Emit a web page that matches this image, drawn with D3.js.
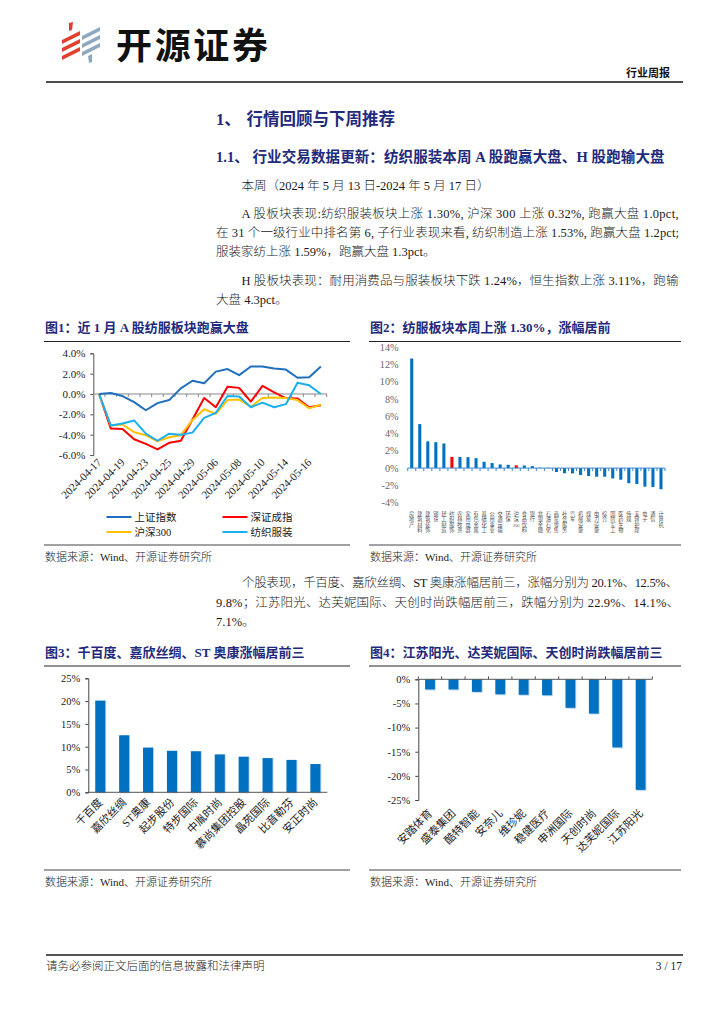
<!DOCTYPE html>
<html>
<head>
<meta charset="utf-8">
<script src="https://d3js.org/d3.v7.min.js"></script>
<style>
  body { margin: 0; background: #fff; }
  svg { display: block; }
</style>
</head>
<body>
<svg id="page" width="724" height="1024"></svg>
<script>
// ---- data ----
const dates = ["2024-04-17","2024-04-18","2024-04-19","2024-04-22","2024-04-23","2024-04-24","2024-04-25","2024-04-26","2024-04-29","2024-04-30",
  "2024-05-06","2024-05-07","2024-05-08","2024-05-09","2024-05-10","2024-05-13","2024-05-14","2024-05-15","2024-05-16","2024-05-17"];
const dateTicks = ["2024-04-17","2024-04-19","2024-04-23","2024-04-25","2024-04-29","2024-05-06","2024-05-08","2024-05-10","2024-05-14","2024-05-16"];
const shIndex = [0,0.1,-0.2,-0.8,-1.6,-0.9,-0.6,0.55,1.3,1.05,2.2,2.45,1.85,2.7,2.7,2.5,2.4,1.6,1.65,2.7];
const szIndex = [0,-3.4,-3.45,-4.45,-4.9,-5.45,-4.8,-4.6,-2.5,-0.4,-1.3,0.7,0.6,-0.75,0.8,0.15,-0.4,-0.45,-1.3,-1.1];
const hs300 = [0,-3.1,-3.0,-3.75,-4.05,-4.65,-4.25,-4.05,-2.55,-1.5,-1.95,-0.6,-0.55,-1.25,-0.4,-0.35,-0.4,-0.6,-1.4,-1.05];
const textile = [0,-3.1,-2.9,-2.6,-3.9,-4.6,-3.9,-4.0,-3.8,-2.35,-1.85,-0.2,-0.25,-1.3,-0.85,-1.3,-1.0,1.1,0.85,0.0];
const seriesNames = ["上证指数","深证成指","沪深300","纺织服装"];
const seriesColors = ["#1f6fbf","#ff0000","#ffc000","#19b0ef"];

const industries = ["房地产","建筑材料","建筑装饰","钢铁","轻工制造","纺织服饰","农林牧渔","家用电器","有色金属","基础化工","公用事业","交通运输","环保","沪深300","食品饮料","银行",
  "非银金融","石油石化","商贸零售","社会服务","汽车","机械设备","煤炭","电力设备","综合","国防军工","医药生物","传媒","美容护理","电子","通信","计算机"];
const industryChg = [12.7,5.1,3.1,3.0,2.85,1.30,1.29,1.27,1.15,0.73,0.58,0.42,0.38,0.32,0.3,0.23,0.05,0.03,-0.45,-0.6,-0.62,-0.8,-0.92,-1.0,-1.0,-1.2,-1.35,-1.75,-1.85,-2.15,-2.2,-2.45];
const highlight = ["纺织服饰","沪深300"];
const industryTicks = [-4,-2,0,2,4,6,8,10,12,14];

const gainers = ["千百度","嘉欣丝绸","ST奥康","起步股份","特步国际","中胤时尚","慕尚集团控股","晶苑国际","比音勒芬","安正时尚"];
const gainerChg = [20.1,12.5,9.8,9.1,9.0,8.3,7.8,7.5,7.1,6.2];
const losers = ["安踏体育","盛泰集团","酷特智能","安奈儿","维珍妮","稳健医疗","申洲国际","天创时尚","达芙妮国际","江苏阳光"];
const loserChg = [-2.1,-2.1,-2.6,-3.1,-3.2,-3.3,-5.9,-7.1,-14.1,-22.9];

// ---- page ----
const SERIF = "'Liberation Serif','Noto Sans CJK SC',serif";
const NAVY = "#1f2a7c";
const svg = d3.select("#page");
svg.append("rect").attr("width", 724).attr("height", 1024).attr("fill", "#fff");

// logo
const logo = svg.append("g");
[[62,40],[62,48],[62,56]].forEach(([x, y]) => {
  logo.append("path").attr("fill", "#e2402f")
    .attr("d", `M${x},${y} L${x+18},${y-9} L${x+18},${y-5} L${x},${y+4}Z`);
});
logo.append("path").attr("fill", "#e2402f").attr("d", "M69,23 L73,22 L72,30 L69,31Z");
[[82,36],[82,44],[82,52]].forEach(([x, y]) => {
  logo.append("path").attr("fill", "#8ea9bf")
    .attr("d", `M${x},${y} L${x+18},${y-9} L${x+18},${y-5} L${x},${y+4}Z`);
});
logo.append("path").attr("fill", "#8ea9bf").attr("d", "M88,56 L92,54 L92,62 L89,63Z");
svg.append("text").attr("x", 116).attr("y", 59)
  .attr("font-family", "'Noto Sans CJK SC',sans-serif").attr("font-weight", 700)
  .attr("font-size", 36).attr("fill", "#111").attr("textLength", 152).attr("lengthAdjust", "spacing")
  .text("开源证券");
svg.append("text").attr("x", 670).attr("y", 77).attr("text-anchor", "end")
  .attr("font-family", SERIF).attr("font-weight", 700).attr("font-size", 11).attr("fill", "#111")
  .text("行业周报");
svg.append("line").attr("x1", 46).attr("x2", 683).attr("y1", 82).attr("y2", 82)
  .attr("stroke", "#111").attr("stroke-width", 1.5);

// headings
function heading(num, x2, txt, y, size, len) {
  svg.append("text").attr("x", 216).attr("y", y).attr("font-family", SERIF).attr("font-weight", 700)
    .attr("font-size", size).attr("fill", NAVY).text(num);
  const t = svg.append("text").attr("x", x2).attr("y", y).attr("font-family", SERIF).attr("font-weight", 700)
    .attr("font-size", size).attr("fill", NAVY).text(txt);
  if (len) t.attr("textLength", len).attr("lengthAdjust", "spacing");
}
heading("1、", 246.5, "行情回顾与下周推荐", 125, 16.5);
heading("1.1、", 252.5, "行业交易数据更新：纺织服装本周 A 股跑赢大盘、H 股跑输大盘", 162, 14.5, 412);

// body paragraphs
function line(x, y, txt, len) {
  const t = svg.append("text").attr("x", x).attr("y", y).attr("font-family", SERIF).attr("font-weight", 300)
    .attr("font-size", 12.5).attr("fill", "#1a1a1a").text(txt);
  if (len) t.attr("textLength", len).attr("lengthAdjust", "spacing");
}
line(241.5, 189.5, "本周（2024 年 5 月 13 日-2024 年 5 月 17 日）");
line(241.5, 218, "A 股板块表现:纺织服装板块上涨 1.30%, 沪深 300 上涨 0.32%, 跑赢大盘 1.0pct,", 437);
line(216, 237, "在 31 个一级行业中排名第 6, 子行业表现来看, 纺织制造上涨 1.53%, 跑赢大盘 1.2pct;", 463);
line(216, 256, "服装家纺上涨 1.59%，跑赢大盘 1.3pct。");
line(241.5, 284.5, "H 股板块表现：耐用消费品与服装板块下跌 1.24%，恒生指数上涨 3.11%，跑输", 437);
line(216, 304, "大盘 4.3pct。");
line(242, 587, "个股表现，千百度、嘉欣丝绸、ST 奥康涨幅居前三，涨幅分别为 20.1%、12.5%、", 436);
line(216, 606.5, "9.8%；江苏阳光、达芙妮国际、天创时尚跌幅居前三，跌幅分别为 22.9%、14.1%、", 463);
line(216, 626, "7.1%。");

// figure frames
function figFrame(x0, x1, titleY, title, srcY) {
  svg.append("text").attr("x", x0 + 1).attr("y", titleY).attr("font-family", SERIF).attr("font-weight", 700)
    .attr("font-size", 13).attr("fill", NAVY).text(title);
  svg.append("line").attr("x1", x0).attr("x2", x1).attr("y1", titleY + 9.5).attr("y2", titleY + 9.5)
    .attr("stroke", "#222").attr("stroke-width", 1);
  svg.append("line").attr("x1", x0).attr("x2", x1).attr("y1", srcY).attr("y2", srcY)
    .attr("stroke", "#444").attr("stroke-width", 1);
  svg.append("text").attr("x", x0 + 1).attr("y", srcY + 16).attr("font-family", SERIF).attr("font-weight", 300)
    .attr("font-size", 11).attr("fill", "#222").text("数据来源：Wind、开源证券研究所");
}
figFrame(44, 350, 332, "图1：近 1 月 A 股纺服板块跑赢大盘", 545);
figFrame(369, 681, 332, "图2：纺服板块本周上涨 1.30%，涨幅居前", 545);
figFrame(44, 350, 656.5, "图3：千百度、嘉欣丝绸、ST 奥康涨幅居前三", 870);
figFrame(369, 681, 656.5, "图4：江苏阳光、达芙妮国际、天创时尚跌幅居前三", 870);

// ---- chart 1: lines ----
{
  const x = d3.scalePoint().domain(dates).range([93.3, 326.7]).padding(0.5);
  const y = d3.scaleLinear().domain([-6, 4]).range([455, 353.3]);
  const g = svg.append("g");
  const yAxis = g.append("g").attr("transform", "translate(93.3,0)")
    .call(d3.axisLeft(y).tickValues([-6,-4,-2,0,2,4]).tickFormat(d => d.toFixed(1) + "%").tickSize(3).tickPadding(5));
  yAxis.select(".domain").attr("stroke", "#555");
  yAxis.selectAll(".tick line").attr("stroke", "#555");
  yAxis.selectAll("text").attr("font-family", SERIF).attr("font-size", 11).attr("fill", "#222");

  const step = x.step();
  g.append("line").attr("x1", 93.3).attr("x2", 326.7).attr("y1", y(0)).attr("y2", y(0)).attr("stroke", "#888");
  g.selectAll(".xt").data(dates.concat(["end"])).join("line")
    .attr("x1", (d, i) => i < dates.length ? x(d) - step / 2 : x(dates[dates.length - 1]) + step / 2)
    .attr("x2", (d, i) => i < dates.length ? x(d) - step / 2 : x(dates[dates.length - 1]) + step / 2)
    .attr("y1", y(0)).attr("y2", y(0) + 3).attr("stroke", "#888");

  g.selectAll(".xl").data(dateTicks).join("text")
    .attr("transform", d => `translate(${x(d) + 3},463) rotate(-45)`)
    .attr("text-anchor", "end").attr("font-family", SERIF).attr("font-size", 11).attr("fill", "#222")
    .text(d => d);

  const all = [shIndex, szIndex, hs300, textile];
  const ln = d3.line().x((d, i) => x(dates[i])).y(d => y(d));
  [1, 2, 3, 0].forEach(k => {
    g.append("path").datum(all[k]).attr("d", ln).attr("fill", "none")
      .attr("stroke", seriesColors[k]).attr("stroke-width", 2).attr("stroke-linejoin", "round");
  });

  const leg = [[106.5, 517], [222.5, 517], [106.5, 532], [222.5, 532]];
  seriesNames.forEach((n, k) => {
    const [lx, ly] = leg[k];
    g.append("line").attr("x1", lx).attr("x2", lx + 25).attr("y1", ly).attr("y2", ly)
      .attr("stroke", seriesColors[k]).attr("stroke-width", 2);
    g.append("text").attr("x", lx + 28).attr("y", ly + 4).attr("font-family", SERIF).attr("font-size", 10.5)
      .attr("fill", "#222").text(n);
  });
}

// ---- chart 2: industry bars ----
{
  const x = d3.scaleBand().domain(industries).range([407.7, 665]).paddingInner(0.62).paddingOuter(0.31);
  const y = d3.scaleLinear().domain([-4, 14]).range([502.6, 347.3]);
  const g = svg.append("g");
  g.selectAll(".yl").data(industryTicks).join("text")
    .attr("x", 398.5).attr("y", d => y(d) + 3.5).attr("text-anchor", "end")
    .attr("font-family", SERIF).attr("font-size", 10.2).attr("fill", "#666").text(d => d + "%");
  g.selectAll("rect").data(industries).join("rect")
    .attr("x", d => x(d)).attr("width", x.bandwidth())
    .attr("y", (d, i) => y(Math.max(0, industryChg[i])))
    .attr("height", (d, i) => Math.abs(y(industryChg[i]) - y(0)))
    .attr("fill", d => highlight.includes(d) ? "#ff0000" : "#0070c0");
  g.append("line").attr("x1", 407.7).attr("x2", 665).attr("y1", y(0)).attr("y2", y(0))
    .attr("stroke", "#3f86c8").attr("stroke-width", 1);
  const step = x.step();
  g.selectAll(".xt").data(d3.range(industries.length + 1)).join("line")
    .attr("x1", i => 407.7 + i * step).attr("x2", i => 407.7 + i * step)
    .attr("y1", y(0)).attr("y2", y(0) + 3).attr("stroke", "#3f86c8");
  industries.forEach(name => {
    const cx = x(name) + x.bandwidth() / 2;
    const chars = name.match(/\d+|./g);
    chars.forEach((c, j) => {
      g.append("text").attr("x", cx).attr("y", 516 + j * 5.3).attr("text-anchor", "middle")
        .attr("font-family", SERIF).attr("font-size", /\d/.test(c) ? 4.2 : 5.2).attr("fill", "#555").text(c);
    });
  });
}

// ---- chart 3 & 4: stock bars ----
function stockBars(names, vals, x0, x1, dom, yr, ticks, labelY, topAxis) {
  const x = d3.scaleBand().domain(names).range([x0, x1]).paddingInner(0.58).paddingOuter(0.29);
  const y = d3.scaleLinear().domain(dom).range(yr);
  const g = svg.append("g");
  const yAxis = g.append("g").attr("transform", `translate(${x0},0)`)
    .call(d3.axisLeft(y).tickValues(ticks).tickFormat(d => d + "%").tickSize(3).tickPadding(5));
  yAxis.select(".domain").attr("stroke", "#444");
  yAxis.selectAll(".tick line").attr("stroke", "#444");
  yAxis.selectAll("text").attr("font-family", SERIF).attr("font-size", 10.5).attr("fill", "#222");

  g.selectAll(".sh").data(names).join("rect")
    .attr("x", d => x(d) + 1).attr("width", x.bandwidth())
    .attr("y", (d, i) => y(Math.max(0, vals[i])))
    .attr("height", (d, i) => Math.abs(y(vals[i]) - y(0)) + 1)
    .attr("fill", "#bdd7ee");
  g.selectAll(".bar").data(names).join("rect")
    .attr("x", d => x(d)).attr("width", x.bandwidth())
    .attr("y", (d, i) => y(Math.max(0, vals[i])))
    .attr("height", (d, i) => Math.abs(y(vals[i]) - y(0)))
    .attr("fill", "#0070c0");

  g.append("line").attr("x1", x0).attr("x2", x1).attr("y1", y(0)).attr("y2", y(0)).attr("stroke", "#555");
  if (topAxis) {
    const step = x.step();
    g.selectAll(".xt").data(d3.range(names.length + 1)).join("line")
      .attr("x1", i => x0 + i * step).attr("x2", i => x0 + i * step)
      .attr("y1", y(0)).attr("y2", y(0) - 3).attr("stroke", "#555");
  }
  g.selectAll(".xl").data(names).join("text")
    .attr("transform", d => `translate(${x(d) + x.bandwidth() / 2 + 3},${labelY}) rotate(-45)`)
    .attr("text-anchor", "end").attr("font-family", SERIF).attr("font-size", 11).attr("fill", "#222")
    .text(d => d);
}
stockBars(gainers, gainerChg, 88.3, 327.3, [0, 25], [792.3, 678.3], [0,5,10,15,20,25], 803, false);
stockBars(losers, loserChg, 418.3, 652.3, [-25, 0], [800, 679.3], [-25,-20,-15,-10,-5,0], 814, true);

// footer
svg.append("line").attr("x1", 46).attr("x2", 683).attr("y1", 955).attr("y2", 955)
  .attr("stroke", "#555").attr("stroke-width", 2);
svg.append("text").attr("x", 46).attr("y", 970).attr("font-family", SERIF).attr("font-weight", 300)
  .attr("font-size", 11.5).attr("fill", "#222").text("请务必参阅正文后面的信息披露和法律声明");
svg.append("text").attr("x", 682).attr("y", 970).attr("text-anchor", "end").attr("font-family", SERIF)
  .attr("font-size", 11.5).attr("fill", "#222").text("3 / 17");
</script>
</body>
</html>
